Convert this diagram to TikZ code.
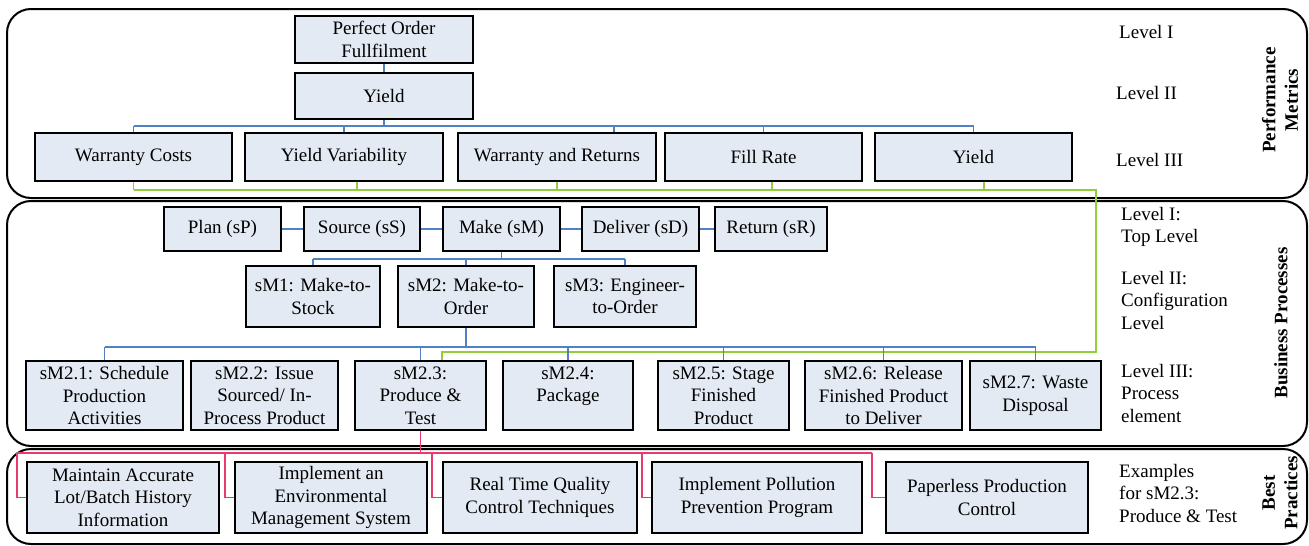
\documentclass[tikz,border=0pt]{standalone}
\usepackage{fontspec}
\setmainfont{Liberation Serif}
\definecolor{boxfill}{RGB}{227,234,243}
\definecolor{linkblue}{RGB}{79,129,196}
\definecolor{linkgreen}{RGB}{146,205,60}
\definecolor{linkpink}{RGB}{233,58,110}

\begin{document}
\begin{tikzpicture}[x=1pt,y=-1pt,
  font=\fontsize{19}{22.5}\selectfont,
  box/.style={draw=black,line width=2.2pt,fill=boxfill,inner sep=0pt,align=center},
  wh/.style 2 args={minimum width=#1pt,minimum height=#2pt},
  panel/.style={draw=black,line width=2pt,rounded corners=24pt},
  bluelink/.style={draw=linkblue,line width=1.4pt},
  greenlink/.style={draw=linkgreen,line width=1.7pt},
  pinklink/.style={draw=linkpink,line width=1.5pt},
  lvl/.style={anchor=west,align=left,inner sep=0pt},
  side/.style={rotate=90,font=\fontsize{19}{22.5}\selectfont\bfseries,align=center,inner sep=0pt}]

\useasboundingbox (0,0) rectangle (1309,546);

% three rounded bands
\draw[panel] (7,9) rectangle (1307,198);
\draw[panel] (7,201) rectangle (1307,446);
\draw[panel] (7,449) rectangle (1307,544);

% ---------- performance metrics ----------
\node[box,wh={178}{47}] (pof)  at (384,39.5) {Perfect Order\\Fullfilment};
\node[box,wh={178}{46}] (yld2) at (384,96) {Yield};
\node[box,wh={197}{48}] (wc)   at (133.5,157) {Warranty Costs};
\node[box,wh={198}{48}] (yv)   at (344,157) {Yield Variability};
\node[box,wh={198}{48}] (wr)   at (557,157) {Warranty and Returns};
\node[box,wh={197}{48}] (fr)   at (763.5,157) {Fill Rate};
\node[box,wh={197}{48}] (yld3) at (973.5,157) {Yield};

\node[lvl] (pl1) at (1119,32) {Level I};
\node[lvl] (pl2) at (1116,93) {Level II};
\node[lvl] (pl3) at (1116,160) {Level III};
\node[side] (pm) at (1280,100) {Performance\\Metrics};

% ---------- business processes ----------
\node[box,wh={117}{44}] (plan)    at (222.5,229) {Plan (sP)};
\node[box,wh={116}{44}] (source)  at (362,229) {Source (sS)};
\node[box,wh={117}{44}] (make)    at (501.5,229) {Make (sM)};
\node[box,wh={117}{44}] (deliver) at (640.5,229) {Deliver (sD)};
\node[box,wh={112}{44}] (return)  at (771,229) {Return (sR)};

\node[box,wh={134}{61}] (sm1) at (313,296.5) {sM1: Make-to-\\Stock};
\node[box,wh={136}{61}] (sm2) at (466,296.5) {sM2: Make-to-\\Order};
\node[box,wh={142}{61}] (sm3) at (625,296.5) {sM3: Engineer-\\to-Order};

\node[box,wh={157}{69}] (s21) at (104.5,395.5) {sM2.1: Schedule\\Production\\Activities};
\node[box,wh={147}{69}] (s22) at (264.5,395.5) {sM2.2: Issue\\Sourced/ In-\\Process Product};
\node[box,wh={131}{69}] (s23) at (420.5,395.5) {sM2.3:\\Produce \&\\Test};
\node[box,wh={130}{69}] (s24) at (568,395.5) {sM2.4:\\Package\\\mbox{}};
\node[box,wh={131}{69}] (s25) at (723.5,395.5) {sM2.5: Stage\\Finished\\Product};
\node[box,wh={157}{69}] (s26) at (883.5,395.5) {sM2.6: Release\\Finished Product\\to Deliver};
\node[box,wh={131}{69}] (s27) at (1035.5,395.5) {sM2.7: Waste\\Disposal};

\node[lvl] (bl1) at (1121,227) {Level I:\\Top Level};
\node[lvl] (bl2) at (1121,300) {Level II:\\Configuration\\Level};
\node[lvl] (bl3) at (1121,393) {Level III:\\Process\\element};
\node[side] (bp) at (1281,323) {Business Processes};

% ---------- best practices ----------
\node[box,wh={192}{71}] (b1) at (123,497.5) {Maintain Accurate\\Lot/Batch History\\Information};
\node[box,wh={192}{71}] (b2) at (331,497.5) {Implement an\\Environmental\\Management System};
\node[box,wh={194}{71}] (b3) at (540,497.5) {Real Time Quality\\Control Techniques};
\node[box,wh={210}{71}] (b4) at (757,497.5) {Implement Pollution\\Prevention Program};
\node[box,wh={202}{71}] (b5) at (987,497.5) {Paperless Production\\Control};

\node[lvl] (ex) at (1119,493) {Examples\\for sM2.3:\\Produce \& Test};
\node[side] (bpr) at (1280,493) {Best\\Practices};

% ---------- connectors ----------
% metric tree
\coordinate (pmbus) at (0,126);
\draw[bluelink] (yld2.south) -- (yld2.south |- pmbus);
\draw[bluelink] (wc.north |- pmbus) -- (yld3.north |- pmbus);
\coordinate (wrtop) at ([xshift=57pt]wr.north);
\foreach \n in {wc.north,yv.north,wrtop,fr.north,yld3.north}
  \draw[bluelink] (\n |- pmbus) -- (\n);
\draw[bluelink] (pof.south) -- (yld2.north);

% metrics linked to sM2.3
\coordinate (gbus) at (0,190);
\coordinate (gturn) at (1096,352);
\coordinate (g23) at ([xshift=21.5pt]s23.north);
\coordinate (gyv) at ([xshift=13pt]yv.south);
\coordinate (gfr) at ([xshift=8.5pt]fr.south);
\coordinate (gy3) at ([xshift=10.5pt]yld3.south);
\foreach \n in {wc.south,gyv,wr.south,gfr,gy3}
  \draw[greenlink] (\n) -- (\n |- gbus);
\draw[greenlink] (wc.south |- gbus) -- (gturn |- gbus) -- (gturn) -- (g23 |- gturn) -- (g23);

% top level process chain
\draw[bluelink] (plan.east) -- (source.west);
\draw[bluelink] (source.east) -- (make.west);
\draw[bluelink] (make.east) -- (deliver.west);
\draw[bluelink] (deliver.east) -- (return.west);

% configuration level
\coordinate (cbus) at (0,259);
\draw[bluelink] (make.south) -- (make.south |- cbus);
\draw[bluelink] (sm1.north |- cbus) -- (sm3.north |- cbus);
\foreach \n in {sm1,sm2,sm3}
  \draw[bluelink] (\n.north |- cbus) -- (\n.north);

% process elements
\coordinate (ebus) at (0,347);
\draw[bluelink] (sm2.south) -- (sm2.south |- ebus);
\draw[bluelink] (s21.north |- ebus) -- (s27.north |- ebus);
\foreach \n in {s21,s23,s24,s25,s26,s27}
  \draw[bluelink] (\n.north |- ebus) -- (\n.north);

% best practices of sM2.3
\coordinate (pbus) at (0,453);
\draw[pinklink] (s23.south) -- (s23.south |- pbus);
\foreach \n/\d in {b1/9,b2/9,b3/10,b4/9,b5/13}
  \draw[pinklink] (\n.west) -- ++(-\d,0) coordinate (p\n) -- (p\n |- pbus);
\draw[pinklink] (pb1 |- pbus) -- (pb5 |- pbus);
\end{tikzpicture}
\end{document}
